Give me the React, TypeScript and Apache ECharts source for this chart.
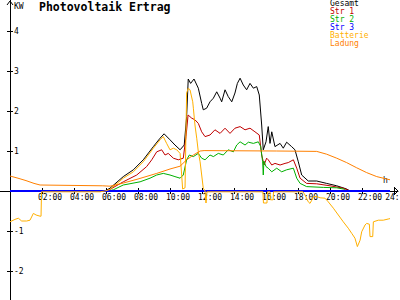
import React, { useEffect, useRef } from "react";
import * as echarts from "echarts";

const TITLE = "Photovoltaik Ertrag";
const Y_NAME = "KW";
const X_NAME = "h";
const SERIES_NAMES = ["Gesamt", "Str 1", "Str 2", "Str 3", "Batterie", "Ladung"];
const X_TICKS = [2, 4, 6, 8, 10, 12, 14, 16, 18, 20, 22, 24];
const X_TICK_LABELS = ["02:00", "04:00", "06:00", "08:00", "10:00", "12:00", "14:00", "16:00", "18:00", "20:00", "22:00", "24:"];
const Y_TICKS = [-2, -1, 1, 2, 3, 4];

// [hour, kW]
const gesamt = [
  [0, 0], [5.94, 0], [6.25, 0.07], [7.08, 0.36], [7.71, 0.53], [8.33, 0.78], [8.96, 1.11], [9.38, 1.32],
  [9.63, 1.43], [10.0, 1.28], [10.31, 1.15], [10.63, 1.03], [10.89, 1.15], [11.04, 1.86], [11.14, 2.8],
  [11.29, 2.69], [11.5, 2.8], [11.77, 2.57], [11.98, 2.19], [12.08, 2.03], [12.29, 2.07], [12.5, 2.23],
  [12.71, 2.32], [12.92, 2.48], [13.13, 2.32], [13.23, 2.23], [13.44, 2.53], [13.64, 2.36], [13.86, 2.23],
  [14.06, 2.45], [14.21, 2.69], [14.38, 2.82], [14.58, 2.65], [14.79, 2.53], [15.0, 2.69], [15.21, 2.57],
  [15.42, 2.61], [15.58, 2.4], [15.73, 1.65], [15.83, 1.03], [16.0, 1.23], [16.14, 1.61], [16.25, 1.19],
  [16.36, 1.48], [16.56, 1.11], [16.88, 1.19], [17.08, 1.07], [17.29, 1.22], [17.6, 1.11], [17.81, 1.03],
  [18.02, 0.73], [18.23, 0.4], [18.64, 0.25], [19.17, 0.25], [19.79, 0.19], [20.42, 0.13], [21.04, 0.05],
  [21.25, 0], [23.75, 0],
];

const str1 = [
  [0, 0], [5.94, 0], [6.25, 0.04], [7.08, 0.23], [7.92, 0.4], [8.54, 0.61], [8.86, 0.78], [9.17, 0.98],
  [9.48, 1.03], [9.69, 0.9], [9.89, 0.94], [10.21, 0.82], [10.52, 0.78], [10.83, 0.82], [11.0, 1.36],
  [11.13, 1.9], [11.36, 1.82], [11.56, 1.78], [11.77, 1.69], [11.98, 1.48], [12.19, 1.36], [12.5, 1.4],
  [12.81, 1.53], [13.13, 1.44], [13.44, 1.57], [13.75, 1.44], [14.06, 1.57], [14.38, 1.61], [14.69, 1.53],
  [15.0, 1.57], [15.31, 1.48], [15.58, 1.4], [15.73, 0.9], [15.88, 0.65], [16.04, 0.82], [16.14, 0.78],
  [16.36, 0.65], [16.56, 0.69], [16.88, 0.65], [17.19, 0.69], [17.39, 0.71], [17.71, 0.78], [17.92, 0.57],
  [18.13, 0.32], [18.54, 0.19], [19.17, 0.18], [20.0, 0.13], [20.83, 0.07], [21.25, 0], [23.75, 0],
];

const str2 = [
  [0, 0], [6.13, 0], [6.46, 0.03], [7.08, 0.15], [8.13, 0.23], [8.75, 0.32], [9.17, 0.4], [9.58, 0.44],
  [10.0, 0.4], [10.31, 0.36], [10.63, 0.32], [10.83, 0.4], [11.04, 0.78], [11.21, 0.9], [11.46, 0.86],
  [11.77, 0.94], [11.98, 0.82], [12.19, 0.78], [12.5, 0.9], [12.71, 0.86], [13.02, 0.94], [13.33, 0.9],
  [13.64, 1.03], [13.96, 0.98], [14.17, 1.15], [14.38, 1.23], [14.69, 1.15], [14.9, 1.22], [15.21, 1.19],
  [15.52, 1.23], [15.67, 1.11], [15.79, 0.73], [15.83, 0.4], [15.87, 0.75], [16.0, 0.61], [16.14, 0.57],
  [16.36, 0.48], [16.67, 0.57], [16.98, 0.48], [17.29, 0.53], [17.71, 0.57], [17.92, 0.32], [18.13, 0.19],
  [18.54, 0.11], [19.58, 0.09], [20.42, 0.08], [20.83, 0.05], [21.04, 0], [23.75, 0],
];

const str3 = [
  [0, 0], [6, 0], [12, 0], [18, 0], [23.75, 0],
];

const batterie = [
  [0, -0.77], [0.31, -0.71], [0.52, -0.68], [0.73, -0.75], [1.04, -0.75], [1.25, -0.73], [1.46, -0.56],
  [1.63, -0.6], [1.88, -0.63], [1.94, -0.63], [1.97, -0.02], [5.63, -0.02], [5.94, 0], [6.25, 0.04],
  [7.08, 0.32], [7.71, 0.48], [8.33, 0.73], [8.96, 1.07], [9.38, 1.28], [9.58, 1.36], [9.79, 1.19],
  [10.0, 1.03], [10.21, 1.07], [10.42, 1.03], [10.63, 0.94], [10.73, 0.4], [10.79, 0.05], [10.94, 0.08],
  [11.04, 2.45], [11.14, 2.57], [11.25, 2.53], [11.42, 2.23], [11.46, 2.07], [11.56, 1.65], [11.67, 1.32],
  [11.77, 0.98], [11.88, 0.73], [11.98, 0.4], [12.08, 0.07], [12.19, 0], [12.25, -0.3], [12.31, -0.02],
  [15.81, -0.02], [15.84, -0.3], [16.06, -0.3], [16.09, -0.02], [16.25, -0.02], [16.28, -0.22],
  [16.44, -0.22], [16.47, -0.02], [18.31, -0.02], [18.44, -0.1], [18.64, -0.27], [18.75, -0.31],
  [18.86, -0.23], [18.96, -0.14], [19.17, -0.14], [19.38, -0.17], [19.69, -0.18], [19.89, -0.27],
  [20.21, -0.43], [20.52, -0.6], [20.83, -0.77], [21.14, -0.93], [21.36, -1.06], [21.56, -1.18],
  [21.71, -1.39], [21.88, -1.23], [21.98, -1.02], [22.19, -0.85], [22.29, -0.81], [22.46, -0.83],
  [22.5, -1.14], [22.67, -1.14], [22.71, -0.77], [23.02, -0.73], [23.33, -0.73], [23.64, -0.7], [23.75, -0.69],
];

const ladung = [
  [0, 0.375], [0.5, 0.32], [1.0, 0.26], [1.5, 0.19], [1.88, 0.15], [5.8, 0.13], [6.25, 0.12], [7.0, 0.19],
  [8.0, 0.3], [9.17, 0.44], [10.0, 0.55], [10.63, 0.62], [11.04, 0.78], [11.46, 0.9], [11.88, 1.0],
  [12.13, 1.01], [16.67, 1.0], [19.17, 0.99], [19.79, 0.92], [20.42, 0.82], [21.04, 0.71], [21.67, 0.58],
  [22.29, 0.46], [22.92, 0.36], [23.33, 0.32], [23.75, 0.28],
];

const SERIES_DATA = [gesamt, str1, str2, str3, batterie, ladung];
const COLORS = ["#000000", "#c00000", "#00b000", "#0000ff", "#ffb000", "#ff8000"];
const FONT = "DejaVu Sans Mono";

const X_MIN = -0.625;
const X_MAX = 24.25;
const Y_MIN = -2.725;
const Y_MAX = 4.775;

export default function App() {
  const ref = useRef<HTMLDivElement>(null);
  useEffect(() => {
    const chart = echarts.init(ref.current!, null, { renderer: "svg" });
    // position the axes where the other axis is zero (grid: 0..398 x 0..300)
    const xAxisOffset = -Math.round((0 - Y_MIN) / (Y_MAX - Y_MIN) * 300);
    const yAxisOffset = -Math.round((0 - X_MIN) / (X_MAX - X_MIN) * 398);
    // labels start slightly left of their tick; the last one is pulled in so it stays on the page
    const labelPositions = X_TICKS.map((t, i) => (i === X_TICKS.length - 1 ? t - 0.55 : t - 0.25));
    const labelFor = (v: number) => {
      const i = labelPositions.findIndex((p) => Math.abs(p - v) < 1e-6);
      return i >= 0 ? X_TICK_LABELS[i] : "";
    };
    chart.setOption({
      animation: false,
      backgroundColor: "#ffffff",
      title: {
        text: TITLE,
        left: 39,
        top: 1,
        padding: 0,
        textStyle: { fontFamily: FONT, fontSize: 11.5, fontWeight: "bold", color: "#000" },
      },
      legend: {
        orient: "vertical",
        left: 325,
        top: -1,
        padding: 0,
        itemGap: 0,
        itemWidth: 0,
        itemHeight: 7.8,
        icon: "none",
        selectedMode: false,
        textStyle: { fontFamily: FONT, fontSize: 8, lineHeight: 7.8 },
        data: SERIES_NAMES.map((n, i) => ({ name: n, textStyle: { color: COLORS[i] } })),
      },
      grid: { left: 0, right: 2, top: 0, bottom: 0, containLabel: false, outerBoundsMode: "none" },
      xAxis: [
        {
          type: "value",
          min: X_MIN,
          max: X_MAX,
          position: "bottom",
          offset: xAxisOffset,
          axisLine: { show: true, onZero: false, lineStyle: { color: "#000", width: 1 } },
          axisTick: { show: true, length: 3, customValues: X_TICKS, lineStyle: { color: "#000" } },
          axisLabel: {
            show: true,
            customValues: labelPositions,
            formatter: labelFor,
            align: "left",
            margin: 2,
            fontFamily: FONT,
            fontSize: 8,
            color: "#000",
          },
          splitLine: { show: false },
        },
        {
          type: "value",
          min: X_MIN,
          max: X_MAX,
          position: "bottom",
          offset: xAxisOffset,
          axisLine: { show: false, onZero: false },
          axisTick: { show: true, inside: true, length: 3, customValues: X_TICKS, lineStyle: { color: "#000" } },
          axisLabel: { show: false },
          splitLine: { show: false },
        },
      ],
      yAxis: [
        {
          type: "value",
          min: Y_MIN,
          max: Y_MAX,
          position: "left",
          offset: yAxisOffset,
          axisLine: { show: true, onZero: false, lineStyle: { color: "#000", width: 1 } },
          axisTick: { show: true, length: 3, customValues: Y_TICKS, lineStyle: { color: "#000" } },
          axisLabel: {
            show: true,
            inside: true,
            margin: 4,
            customValues: Y_TICKS,
            fontFamily: FONT,
            fontSize: 8,
            color: "#000",
          },
          splitLine: { show: false },
        },
        {
          type: "value",
          min: Y_MIN,
          max: Y_MAX,
          position: "left",
          offset: yAxisOffset,
          axisLine: { show: false, onZero: false },
          axisTick: { show: true, inside: true, length: 3, customValues: Y_TICKS, lineStyle: { color: "#000" } },
          axisLabel: { show: false },
          splitLine: { show: false },
        },
      ],
      graphic: [
        { type: "text", left: 14, top: 2, style: { text: Y_NAME, font: `8px "${FONT}"`, fill: "#000" } },
        { type: "text", left: 383, top: 176, style: { text: X_NAME, font: `8px "${FONT}"`, fill: "#000" } },
        {
          type: "polyline",
          shape: { points: [[7, 5], [10, 1], [13, 5]] },
          style: { stroke: "#000", lineWidth: 1, fill: "none" },
        },
        {
          type: "polyline",
          shape: { points: [[394, 187], [398, 191], [394, 195]] },
          style: { stroke: "#000", lineWidth: 1, fill: "none" },
        },
      ],
      series: SERIES_NAMES.map((n, i) => ({
        name: n,
        type: "line",
        xAxisIndex: 0,
        yAxisIndex: 0,
        data: SERIES_DATA[i],
        showSymbol: false,
        symbol: "none",
        silent: true,
        color: COLORS[i],
        lineStyle: { color: COLORS[i], width: n === "Str 3" ? 2 : 1 },
        emphasis: { disabled: true },
      })),
    });
    return () => chart.dispose();
  }, []);
  return (
    <div
      ref={ref}
      style={{ position: "fixed", left: 0, top: 0, width: 400, height: 300, background: "#fff" }}
    />
  );
}
